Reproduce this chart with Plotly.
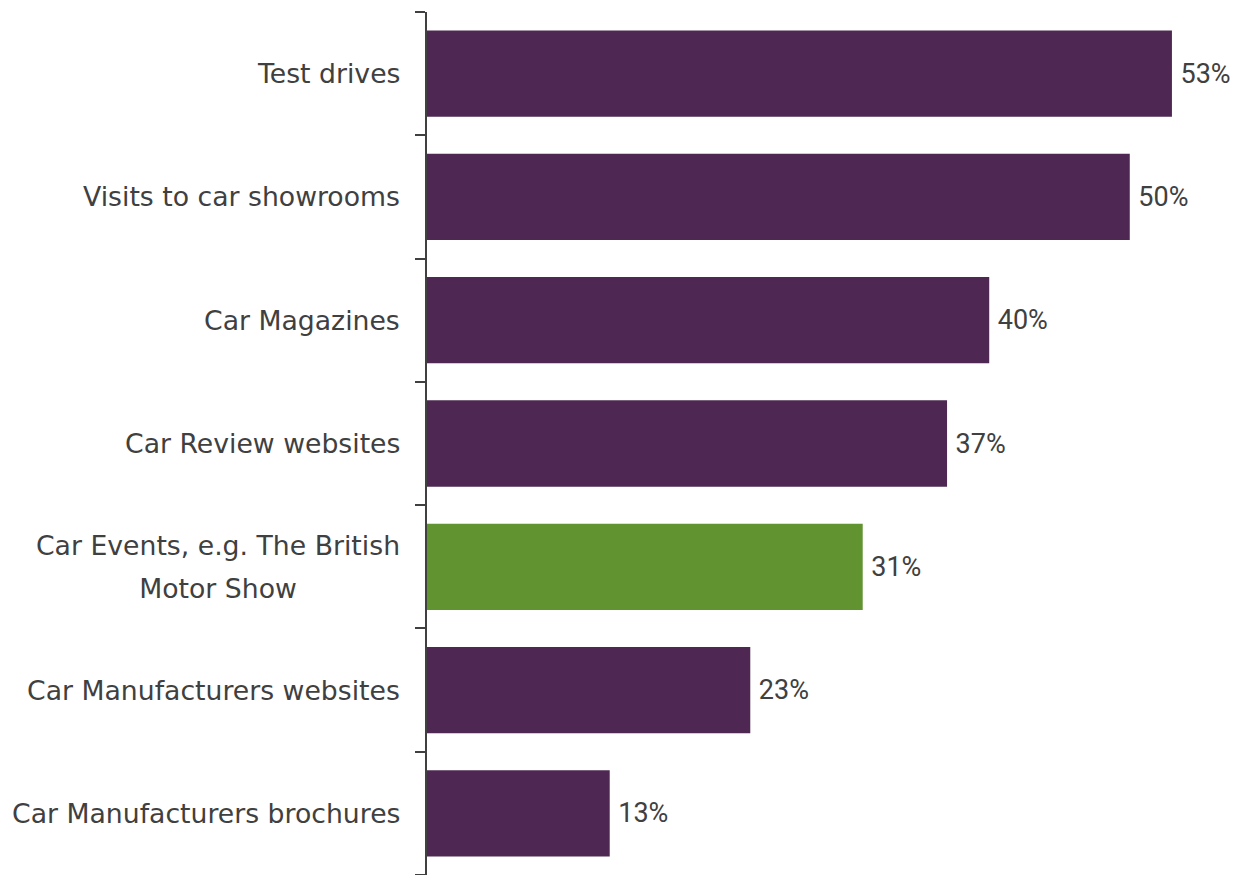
import plotly.graph_objects as go

# Share of respondents citing each information source
categories = [
    "Test drives",
    "Visits to car showrooms",
    "Car Magazines",
    "Car Review websites",
    "Car Events, e.g. The British<br>Motor Show",
    "Car Manufacturers websites",
    "Car Manufacturers brochures",
]
values = [53, 50, 40, 37, 31, 23, 13]
highlight = "Car Events, e.g. The British<br>Motor Show"

PURPLE = "#4E2853"
GREEN = "#629331"
TEXT = "#404040"
LABEL_FONT = dict(family="DejaVu Sans", size=26.7, color=TEXT)

colors = [GREEN if c == highlight else PURPLE for c in categories]

fig = go.Figure(
    go.Bar(
        x=values,
        y=categories,
        orientation="h",
        marker=dict(color=colors, line=dict(width=0)),
        text=[f"\u2009{v}%" for v in values],
        textposition="outside",
        textfont=dict(family="Roboto", size=27, color=TEXT),
        cliponaxis=False,
        width=0.7,
    )
)

# Category labels next to the axis; wrapped labels get one annotation per
# line, centred within the width of the longest line
LINE_GAP = 43
for c in categories:
    lines = c.split("<br>")
    n = len(lines)
    for i, line in enumerate(lines):
        extra = dict(width=364, align="center") if n > 1 else {}
        fig.add_annotation(
            x=0, xref="paper", y=c, yref="y",
            text=line, showarrow=False,
            xanchor="right", yanchor="middle",
            xshift=-25,
            yshift=((n - 1) / 2 - i) * LINE_GAP,
            font=LABEL_FONT,
            **extra,
        )

fig.update_layout(
    width=1238, height=875,
    margin=dict(l=427, r=0, t=12, b=0),
    paper_bgcolor="white", plot_bgcolor="white",
    showlegend=False,
)
fig.update_xaxes(range=[0, 57.7], visible=False)
fig.update_yaxes(
    categoryorder="array",
    categoryarray=categories[::-1],
    showticklabels=False,
    showline=True, linecolor="#404040", linewidth=2,
    ticks="outside", tickson="boundaries", ticklen=10,
    tickcolor="#404040", tickwidth=2,
    showgrid=False, zeroline=False,
)

fig.write_html("out.html")
